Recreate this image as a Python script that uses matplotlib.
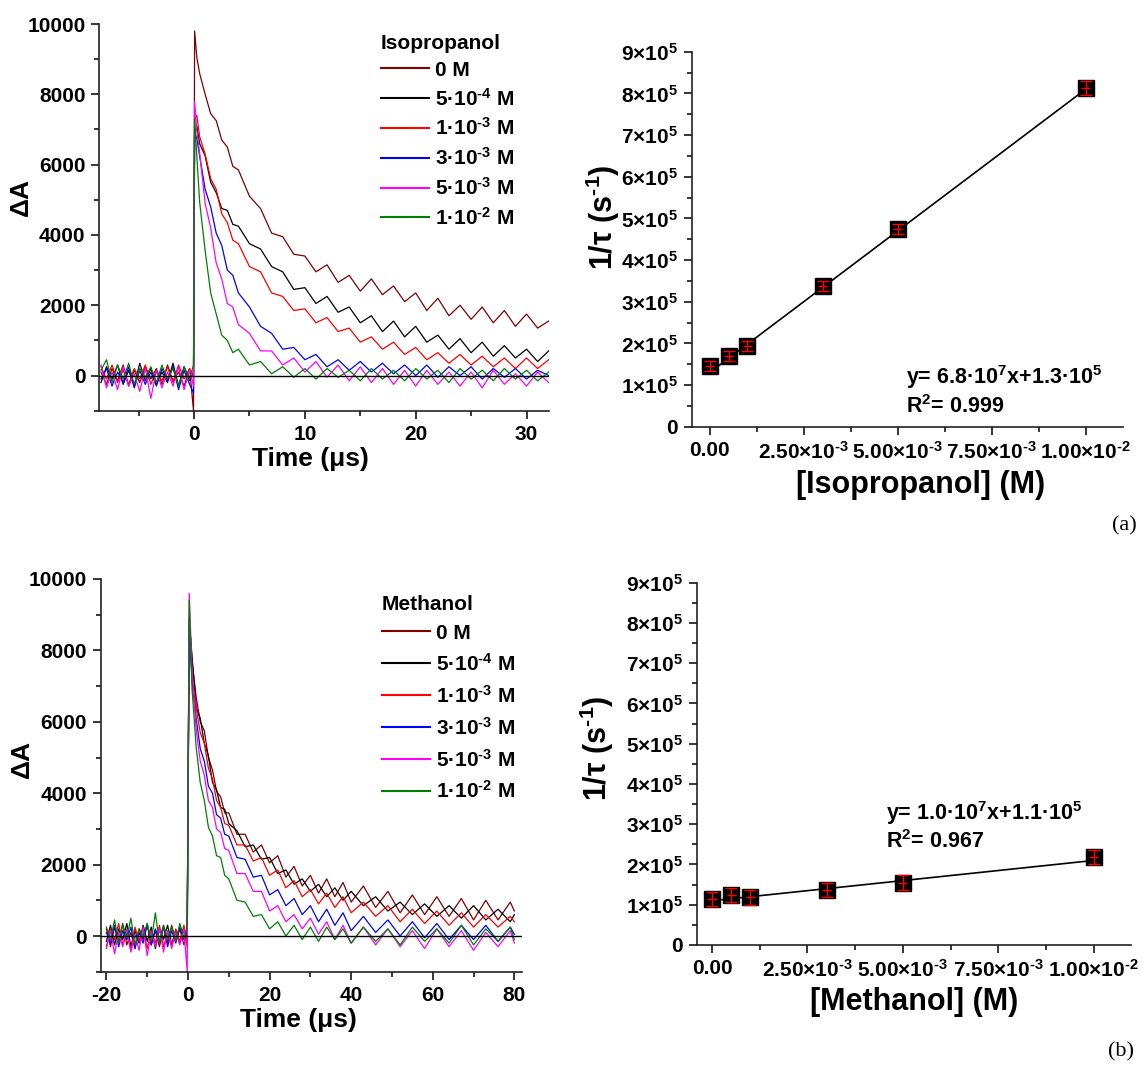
"""Transient absorption decays and Stern-Volmer type plots for isopropanol / methanol quenching."""

import matplotlib
matplotlib.use("Agg")
import matplotlib.pyplot as plt
import numpy as np
from matplotlib.ticker import MultipleLocator

plt.rcParams["font.family"] = ["Liberation Sans", "DejaVu Sans"]
plt.rcParams["font.weight"] = "bold"
plt.rcParams["mathtext.fontset"] = "custom"
plt.rcParams["mathtext.rm"] = "Liberation Sans:bold"
plt.rcParams["mathtext.bf"] = "Liberation Sans:bold"
plt.rcParams["mathtext.it"] = "Liberation Sans:bold"
plt.rcParams["mathtext.default"] = "bf"
plt.rcParams["axes.unicode_minus"] = False

# ---- series styling shared by both trace panels
conc_labels = ["0 M", r"5·10$^{\text{-}4}$ M", r"1·10$^{\text{-}3}$ M",
               r"3·10$^{\text{-}3}$ M", r"5·10$^{\text{-}3}$ M", r"1·10$^{\text{-}2}$ M"]
trace_colors = ["#800000", "#000000", "#ff0000", "#0000ff", "#ff00ff", "#008000"]

# ---- isopropanol traces (time in us, delta A)
t_iso_pre = [-8.4, -7.9, -7.4, -6.9, -6.4, -5.9, -5.4, -4.9, -4.4, -3.9,
             -3.4, -2.9, -2.4, -1.9, -1.4, -0.9, -0.4, -0.05]
iso_0M_pre = [100, -250, 200, -150, 300, -300, 150, -200, 250, -100, 200, -250, 300, -150, 100, -300, 200, -1000]
iso_5e4_pre = [-200, 250, -100, 300, -250, 150, -300, 350, -150, 200, -250, 100, -200, 350, -300, 250, -150, 100]
iso_1e3_pre = [250, -100, 300, -200, 150, -250, 200, -100, 300, -250, 150, -150, 250, -200, 300, -100, 200, -50]
iso_3e3_pre = [-100, 200, -300, 100, -200, 250, -350, 150, -250, 100, -300, 200, -150, 250, -400, 150, -250, -500]
iso_5e3_pre = [300, -350, 100, -400, 250, -300, 50, -450, 200, -650, 150, -350, 100, -300, 250, -400, 150, -300]
iso_1e2_pre = [150, 450, -200, 300, -100, 350, -250, 200, -50, 250, -200, 300, -100, 200, -300, 250, -100, 300]

t_iso = [0.05, 0.25, 0.5, 1, 1.5, 2, 2.5, 3, 3.5, 4, 5, 6, 7, 8, 9, 10, 11, 12, 13,
         14, 15, 16, 17, 18, 19, 20, 21, 22, 23, 24, 25, 26, 27, 28, 29, 30, 31, 32]
iso_0M = [9800, 9050, 8600, 8000, 7450, 7250, 6700, 6500, 5950, 5850, 5100, 4750, 4050, 3950, 3450,
          3400, 2950, 3150, 2650, 2850, 2400, 2750, 2300, 2550, 2100, 2350, 1850, 2200, 1700, 2000,
          1600, 1950, 1500, 1850, 1400, 1750, 1350, 1550]
iso_5e4 = [6900, 7100, 6600, 6250, 5500, 5200, 4750, 4700, 4300, 4250, 3750, 3600, 3100, 2950, 2450,
           2500, 2050, 2250, 1800, 1950, 1500, 1700, 1250, 1550, 1100, 1400, 950, 1150, 750, 1050,
           650, 950, 550, 850, 500, 750, 400, 700]
iso_1e3 = [7300, 7400, 6800, 6300, 5600, 5300, 4600, 4350, 3850, 3750, 3100, 2950, 2350, 2250, 1850,
           1900, 1500, 1650, 1250, 1350, 950, 1100, 750, 950, 600, 800, 450, 650, 350, 600,
           300, 550, 250, 500, 200, 500, 200, 450]
iso_3e3 = [6900, 6750, 6250, 5300, 4800, 4050, 3700, 3000, 2850, 2350, 1950, 1400, 1200, 750, 800,
           450, 600, 250, 450, 150, 400, 100, 350, 50, 300, 0, 300, -50, 250, 0,
           250, -100, 200, -50, 200, -100, 150, 0]
iso_5e3 = [7800, 6950, 6350, 4900, 4200, 3200, 2750, 2050, 1950, 1450, 1200, 700, 700, 300, 500,
           100, 400, -50, 300, -150, 250, -200, 200, -250, 150, -300, 150, -250, 100, -300,
           100, -350, 150, -250, 50, -300, 100, -200]
iso_1e2 = [7300, 6250, 4950, 3550, 2350, 1750, 1150, 1000, 650, 750, 300, 400, 50, 250, -50,
           200, -100, 200, -50, 150, -150, 200, -100, 150, -150, 200, -100, 150, -200, 200,
           -100, 150, -150, 200, -100, 150, -150, 100]

# ---- methanol traces
t_meoh_pre = [-20, -19, -18, -17, -16, -15, -14, -13, -12, -11, -10,
              -9, -8, -7, -6, -5, -4, -3, -2, -1, -0.2]
meoh_0M_pre = [200, -300, 250, -150, 350, -250, 100, -350, 200, -100, 300, -250, 150, -300, 250, -200, 300, -150, 200, -250, 100]
meoh_5e4_pre = [-150, 300, -250, 200, -100, 350, -300, 150, -200, 300, -150, 250, -350, 200, -100, 300, -250, 150, -200, 250, -100]
meoh_1e3_pre = [-300, 200, -100, 350, -250, 100, -400, 250, -150, 200, -350, 150, -200, 300, -300, 100, -250, 200, -150, 300, -300]
meoh_3e3_pre = [100, -200, 300, -300, 150, -100, 250, -350, 100, -200, 350, -250, 200, -150, 300, -300, 150, -200, 250, -100, 200]
meoh_5e3_pre = [-350, 150, -500, 100, -300, 200, -450, 50, -400, 250, -550, 100, -300, 200, -450, 150, -350, 100, -250, 200, -1000]
meoh_1e2_pre = [250, -100, 450, -200, 300, -50, 500, -250, 200, 0, 350, -150, 650, -200, 300, -100, 250, -150, 350, -50, 200]

t_meoh = [0.3, 1, 2, 3, 4, 5, 6, 7, 8, 9, 10, 12, 14, 16, 18, 20, 22, 24, 26, 28,
          30, 32, 34, 36, 38, 40, 43, 46, 49, 52, 55, 58, 61, 64, 67, 70, 73, 76, 79, 80]
meoh_0M = [8900, 7700, 6700, 6000, 5750, 5000, 4650, 4050, 3900, 3450, 3450, 2850, 2850, 2350, 2550,
           2050, 2250, 1650, 1950, 1400, 1700, 1200, 1600, 1100, 1500, 950, 1400, 800, 1250, 650,
           1150, 600, 1100, 550, 1050, 450, 1000, 450, 950, 700]
meoh_5e4 = [8900, 7800, 6400, 6100, 5400, 5050, 4300, 4100, 3600, 3550, 3150, 2950, 2500, 2550, 2150,
            2200, 1750, 1850, 1450, 1600, 1250, 1450, 1100, 1350, 1000, 1250, 850, 1100, 700, 950,
            600, 900, 550, 850, 500, 850, 450, 750, 400, 600]
meoh_1e3 = [8500, 7300, 6400, 5700, 5400, 4700, 4400, 3800, 3600, 3150, 3100, 2550, 2550, 2100, 2200,
            1700, 1850, 1350, 1550, 1100, 1300, 900, 1200, 800, 1100, 650, 950, 550, 850, 400,
            750, 350, 700, 300, 650, 250, 600, 250, 550, 400]
meoh_3e3 = [8700, 7100, 6100, 5250, 4900, 4200, 4000, 3400, 3300, 2850, 2800, 2200, 2150, 1650, 1700,
            1150, 1300, 850, 1050, 600, 850, 400, 750, 300, 650, 150, 550, 100, 450, 0,
            400, -50, 350, -100, 300, -100, 300, -150, 250, 50]
meoh_5e3 = [9600, 7400, 5800, 4900, 4500, 3800, 3600, 3000, 2900, 2450, 2400, 1750, 1750, 1250, 1250,
            700, 850, 400, 600, 200, 500, 50, 400, -100, 300, -200, 250, -250, 200, -300,
            150, -350, 200, -300, 150, -400, 100, -300, 150, -200]
meoh_1e2 = [9400, 6900, 5300, 4300, 3800, 3050, 2800, 2250, 2200, 1700, 1600, 1000, 950, 550, 600,
            200, 400, 0, 300, -100, 250, -150, 250, -100, 200, -200, 250, -150, 200, -250,
            250, -150, 200, -200, 300, -250, 200, -150, 250, -100]

# ---- rate constants vs quencher concentration
conc = [0, 5e-4, 1e-3, 3e-3, 5e-3, 1e-2]
rate_iso = [1.46e5, 1.69e5, 1.94e5, 3.37e5, 4.74e5, 8.12e5]
rate_iso_err = [1.2e4, 1.2e4, 1.2e4, 1.2e4, 1.2e4, 1.7e4]
rate_meoh = [1.14e5, 1.24e5, 1.18e5, 1.37e5, 1.55e5, 2.19e5]
rate_meoh_err = [1.8e4, 1.8e4, 1.8e4, 1.8e4, 1.8e4, 1.8e4]
fit_iso = [6.8e7, 1.3e5]     # slope, intercept
fit_meoh = [1.0e7, 1.1e5]

rate_ticks = [0, 1e5, 2e5, 3e5, 4e5, 5e5, 6e5, 7e5, 8e5, 9e5]
rate_ticklabels = ["0"] + [r"%d$\times$10$^{5}$" % k for k in range(1, 10)]
conc_ticks = [0, 2.5e-3, 5e-3, 7.5e-3, 1e-2]
conc_ticklabels = ["0.00", r"2.50$\times$10$^{\text{-}3}$", r"5.00$\times$10$^{\text{-}3}$",
                   r"7.50$\times$10$^{\text{-}3}$", r"1.00$\times$10$^{\text{-}2}$"]

W, H = 1144, 1084
fig = plt.figure(figsize=(W / 100, H / 100), dpi=100)


def px_axes(left, top, right, bottom):
    """Add axes given pixel box of the reference image."""
    return fig.add_axes([left / W, 1 - bottom / H, (right - left) / W, (bottom - top) / H])


def style_axes(ax):
    for side in ["top", "right"]:
        ax.spines[side].set_visible(False)
    for side in ["left", "bottom"]:
        ax.spines[side].set_linewidth(1.2)
        ax.spines[side].set_color("#222222")
    ax.tick_params(which="major", direction="out", length=6, width=1.1, labelsize=15, pad=4)
    ax.tick_params(which="minor", direction="out", length=3.5, width=1.1)
    for lab in ax.get_xticklabels() + ax.get_yticklabels():
        lab.set_fontweight("bold")


def plot_traces(ax, t_pre, pre_sets, t_dec, dec_sets, xlim, xmajor, title, leg_xy, spacing):
    for pre, dec, color, label in zip(pre_sets, dec_sets, trace_colors, conc_labels):
        ax.plot(t_pre + t_dec, pre + dec, color=color, lw=0.9, label=label)
    ax.axhline(0, color="black", lw=1.0, zorder=10)
    ax.set_xlim(*xlim)
    ax.set_ylim(-1000, 10000)
    ax.xaxis.set_major_locator(MultipleLocator(xmajor))
    ax.xaxis.set_minor_locator(MultipleLocator(xmajor / 2))
    ax.yaxis.set_major_locator(MultipleLocator(2000))
    ax.yaxis.set_minor_locator(MultipleLocator(1000))
    style_axes(ax)
    ax.set_xlabel("Time (μs)", fontsize=19, fontweight="bold")
    ax.set_ylabel("ΔA", fontsize=19, fontweight="bold")
    leg = ax.legend(loc="upper left", bbox_to_anchor=leg_xy, frameon=False,
                    title=title, alignment="left", prop={"size": 15, "weight": "bold"},
                    title_fontproperties={"size": 15, "weight": "bold"},
                    handlelength=2.3, handletextpad=0.3, labelspacing=spacing,
                    borderpad=0, borderaxespad=0)
    for line in leg.get_lines():
        line.set_linewidth(1.5)


def plot_rates(ax, rates, errs, fit, xlim, xlabel):
    fit_x = np.array([conc[0], conc[-1]])
    ax.plot(fit_x, fit[0] * fit_x + fit[1], color="black", lw=1.2, zorder=2)
    ax.plot(conc, rates, "s", color="black", ms=12, zorder=3)
    ax.errorbar(conc, rates, yerr=errs, fmt="none", ecolor="red", elinewidth=1,
                capsize=4, capthick=1, zorder=4)
    ax.errorbar(conc, rates, xerr=1.2e-4, fmt="none", ecolor="red", elinewidth=1,
                capsize=0, zorder=4)
    ax.set_xlim(*xlim)
    ax.set_ylim(0, 9e5)
    ax.set_yticks(rate_ticks, rate_ticklabels)
    ax.set_xticks(conc_ticks, conc_ticklabels)
    ax.yaxis.set_minor_locator(MultipleLocator(0.5e5))
    ax.xaxis.set_minor_locator(MultipleLocator(1.25e-3))
    style_axes(ax)
    ax.set_xlabel(xlabel, fontsize=22, fontweight="bold")
    ax.set_ylabel(r"1/τ (s$^{\text{-}1}$)", fontsize=22, fontweight="bold")


# (a) isopropanol
ax1 = px_axes(99.3, 24, 548.7, 410.7)
plot_traces(ax1, t_iso_pre,
            [iso_0M_pre, iso_5e4_pre, iso_1e3_pre, iso_3e3_pre, iso_5e3_pre, iso_1e2_pre],
            t_iso, [iso_0M, iso_5e4, iso_1e3, iso_3e3, iso_5e3, iso_1e2],
            (-8.55, 32.0), 10, "Isopropanol", (0.627, 0.975), 0.38)
ax1.xaxis.set_label_coords(0.47, -0.094)
ax1.yaxis.set_label_coords(-0.148, 0.553)

ax2 = px_axes(691.7, 51.7, 1123.3, 426.7)
plot_rates(ax2, rate_iso, rate_iso_err, fit_iso, (-0.00048, 0.0110), "[Isopropanol] (M)")
ax2.xaxis.set_label_coords(0.53, -0.115)
ax2.yaxis.set_label_coords(-0.161, 0.559)

# (b) methanol
ax3 = px_axes(100.7, 579, 521.7, 971.7)
plot_traces(ax3, t_meoh_pre,
            [meoh_0M_pre, meoh_5e4_pre, meoh_1e3_pre, meoh_3e3_pre, meoh_5e3_pre, meoh_1e2_pre],
            t_meoh, [meoh_0M, meoh_5e4, meoh_1e3, meoh_3e3, meoh_5e3, meoh_1e2],
            (-21.4, 81.8), 20, "Methanol", (0.668, 0.96), 0.48)
ax3.xaxis.set_label_coords(0.47, -0.0925)
ax3.yaxis.set_label_coords(-0.158, 0.542)

ax4 = px_axes(696.8, 582.7, 1131, 945)
plot_rates(ax4, rate_meoh, rate_meoh_err, fit_meoh, (-0.0004, 0.01098), "[Methanol] (M)")
ax4.xaxis.set_label_coords(0.50, -0.115)
ax4.yaxis.set_label_coords(-0.187, 0.544)

# fit annotations
fig.text(906 / W, 1 - 377 / H, "y= 6.8·10$^{7}$x+1.3·10$^{5}$", fontsize=15.5,
         fontweight="bold", ha="left", va="center")
fig.text(906 / W, 1 - 407 / H, "R$^{2}$= 0.999", fontsize=15.5,
         fontweight="bold", ha="left", va="center")
fig.text(886 / W, 1 - 813 / H, "y= 1.0·10$^{7}$x+1.1·10$^{5}$", fontsize=15.5,
         fontweight="bold", ha="left", va="center")
fig.text(886 / W, 1 - 842 / H, "R$^{2}$= 0.967", fontsize=15.5,
         fontweight="bold", ha="left", va="center")

# panel tags
fig.text(1112 / W, 1 - 526 / H, "(a)", fontsize=16, family="Liberation Serif",
         fontweight="normal", ha="left", va="center")
fig.text(1108 / W, 1 - 1052 / H, "(b)", fontsize=16, family="Liberation Serif",
         fontweight="normal", ha="left", va="center")

fig.savefig("out.png", dpi=100)
